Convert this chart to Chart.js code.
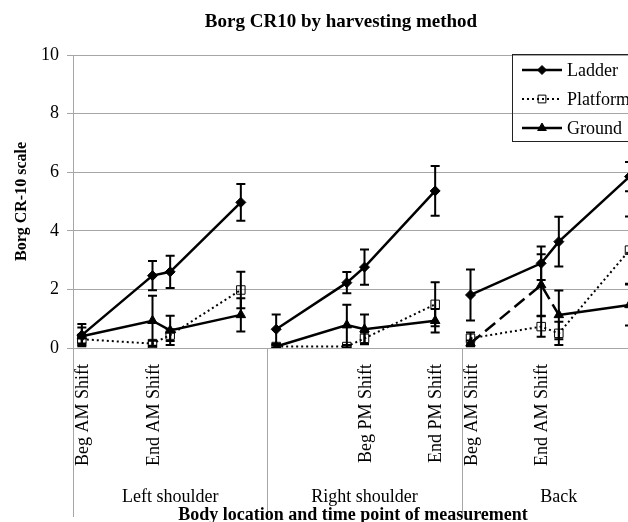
<!DOCTYPE html>
<html>
<head>
<meta charset="utf-8">
<script src="https://cdn.jsdelivr.net/npm/chart.js@4.4.1/dist/chart.umd.min.js"></script>
<style>
  html, body { margin: 0; padding: 0; background: #fff; }
  #wrap { width: 628px; height: 522px; overflow: hidden; position: relative; }
  #wrap canvas { position: absolute; left: 0; top: 0; }
</style>
</head>
<body>
<div id="wrap"><canvas id="borgChart" width="680" height="530" style="width:680px;height:530px"></canvas></div>
<script>
// Datos (Borg CR-10, media y error)
const bodyLocations = ['Left shoulder', 'Right shoulder', 'Back'];
const timePoints = ['Beg AM Shift', 'End AM Shift', 'Beg PM Shift', 'End PM Shift'];
// etiquetas que se ven en el eje (las demas estan ocultas en el original)
const tickLabels = [
  'Beg AM Shift', 'End AM Shift', '', '',
  '', '', 'Beg PM Shift', 'End PM Shift',
  'Beg AM Shift', 'End AM Shift', '', ''
];
const seriesNames = ['Ladder', 'Platform', 'Ground'];

const ladder      = [0.44, 2.47, 2.60, 4.97,  0.64, 2.23, 2.76, 5.36,  1.81, 2.89, 3.63, 5.85];
const ladderErr   = [0.38, 0.50, 0.55, 0.63,  0.50, 0.36, 0.60, 0.85,  0.87, 0.57, 0.85, 0.50];
const platform    = [0.30, 0.15, 0.44, 1.98,  0.05, 0.05, 0.33, 1.49,  0.33, 0.73, 0.50, 3.34];
const platformErr = [0.15, 0.10, 0.20, 0.62,  0.05, 0.05, 0.20, 0.75,  0.20, 0.35, 0.40, 1.15];
const ground      = [0.40, 0.93, 0.60, 1.13,  0.05, 0.78, 0.64, 0.93,  0.16, 2.15, 1.13, 1.47];
const groundErr   = [0.30, 0.85, 0.50, 0.57,  0.05, 0.70, 0.50, 0.40,  0.10, 1.05, 0.83, 0.70];
// tramos de Ground dibujados con guiones (Back: Beg AM -> End AM -> Beg PM)
const groundDashedFrom = [8, 9];

// eje de categorias de Excel: 11 huecos por zona del cuerpo
const SLOTS = 11;
const timeSlots = [0, 4, 5, 9];

const FONT = "'Liberation Serif', 'Times New Roman', serif";
const GRID = '#a6a6a6';

function toPoints(values, errors) {
  const pts = [];
  bodyLocations.forEach((loc, g) => {
    timeSlots.forEach((slot, t) => {
      const i = g * timePoints.length + t;
      pts.push({ x: g * SLOTS + slot + 0.5, y: values[i], err: errors[i] });
    });
    // corte de linea entre zonas
    pts.push({ x: (g + 1) * SLOTS - 0.25, y: null });
  });
  return pts;
}

// indice de la serie (0..11) a partir del indice del dataset
function seriesIndex(dataIndex) {
  const per = timePoints.length + 1;
  const g = Math.floor(dataIndex / per);
  const t = dataIndex % per;
  return t === timePoints.length ? -1 : g * timePoints.length + t;
}

const tickValues = [];
bodyLocations.forEach((loc, g) => timeSlots.forEach(slot => tickValues.push(g * SLOTS + slot + 0.5)));

const datasets = [
  {
    label: seriesNames[0],
    data: toPoints(ladder, ladderErr),
    borderColor: '#000', backgroundColor: '#000',
    borderWidth: 2.5,
    pointStyle: 'rectRot', pointRadius: 5, pointBorderWidth: 1,
    pointBackgroundColor: '#000'
  },
  {
    label: seriesNames[1],
    data: toPoints(platform, platformErr),
    borderColor: '#000', backgroundColor: 'rgba(0,0,0,0)',
    borderWidth: 2, borderDash: [2, 3],
    pointStyle: 'rect', pointRadius: 6, pointBorderWidth: 1,
    pointBackgroundColor: 'rgba(0,0,0,0)'
  },
  {
    label: seriesNames[2],
    data: toPoints(ground, groundErr),
    borderColor: '#000', backgroundColor: '#000',
    borderWidth: 2.5,
    pointStyle: 'triangle', pointRadius: 5.5, pointBorderWidth: 1,
    pointBackgroundColor: '#000',
    segment: {
      borderDash: ctx => groundDashedFrom.includes(seriesIndex(ctx.p0DataIndex)) ? [13, 6] : undefined
    }
  }
];

// barras de error, separadores, rotulos de zona, titulos y leyenda
const decorations = {
  id: 'decorations',
  afterDatasetsDraw(chart) {
    const { ctx, chartArea, scales } = chart;
    ctx.save();
    ctx.beginPath();
    ctx.rect(chartArea.left, chartArea.top - 2, chartArea.right - chartArea.left, chartArea.bottom - chartArea.top + 2);
    ctx.clip();
    ctx.strokeStyle = '#000';
    ctx.lineWidth = 2;
    chart.data.datasets.forEach(ds => {
      ds.data.forEach(p => {
        if (p.y === null) return;
        const x = scales.x.getPixelForValue(p.x);
        const yTop = scales.y.getPixelForValue(p.y + p.err);
        const yBot = scales.y.getPixelForValue(Math.max(p.y - p.err, 0));
        ctx.beginPath();
        ctx.moveTo(x, yTop); ctx.lineTo(x, yBot);
        ctx.moveTo(x - 4.5, yTop); ctx.lineTo(x + 4.5, yTop);
        ctx.moveTo(x - 4.5, yBot); ctx.lineTo(x + 4.5, yBot);
        ctx.stroke();
      });
    });
    ctx.restore();
  },
  afterDraw(chart) {
    const { ctx, chartArea, scales } = chart;
    ctx.save();

    // linea del eje y separadores de zonas
    ctx.strokeStyle = GRID;
    ctx.lineWidth = 1;
    ctx.beginPath();
    for (let g = 0; g < bodyLocations.length; g++) {
      const x = Math.round(scales.x.getPixelForValue(g * SLOTS)) + 0.5;
      ctx.moveTo(x, chartArea.bottom);
      ctx.lineTo(x, 517);
    }
    ctx.stroke();

    ctx.fillStyle = '#000';
    ctx.textAlign = 'center';
    ctx.textBaseline = 'middle';

    // rotulos de zona del cuerpo
    ctx.font = '18px ' + FONT;
    bodyLocations.forEach((loc, g) => {
      ctx.fillText(loc, scales.x.getPixelForValue(g * SLOTS + SLOTS / 2), 497);
    });

    // titulos
    ctx.font = 'bold 19px ' + FONT;
    ctx.fillText('Borg CR10 by harvesting method', 341, 22);
    ctx.font = 'bold 18px ' + FONT;
    ctx.fillText('Body location and time point of measurement', 353, 515);

    // leyenda con marco
    const lx = 512, ly = 54;
    ctx.strokeStyle = '#222';
    ctx.lineWidth = 1;
    ctx.strokeRect(lx + 0.5, ly + 0.5, 150, 87);
    ctx.textAlign = 'left';
    ctx.font = '18px ' + FONT;
    chart.data.datasets.forEach((ds, i) => {
      const y = 70 + i * 29;
      ctx.save();
      ctx.strokeStyle = ds.borderColor;
      ctx.lineWidth = ds.borderWidth;
      ctx.setLineDash(ds.borderDash || []);
      ctx.beginPath();
      ctx.moveTo(522, y); ctx.lineTo(562, y);
      ctx.stroke();
      ctx.setLineDash([]);
      ctx.fillStyle = ds.pointBackgroundColor;
      ctx.lineWidth = 1;
      Chart.helpers.drawPoint(ctx, {
        pointStyle: ds.pointStyle, radius: ds.pointRadius - 0.5, rotation: 0, borderWidth: 1
      }, 542, y);
      ctx.restore();
      ctx.fillText(ds.label, 567, y + 1);
    });

    ctx.restore();
  }
};

new Chart(document.getElementById('borgChart'), {
  type: 'line',
  data: { datasets },
  options: {
    responsive: false,
    animation: false,
    spanGaps: false,
    layout: { padding: { top: 55, right: 24, bottom: 0, left: 0 } },
    plugins: {
      legend: { display: false },
      title: { display: false },
      tooltip: { enabled: false }
    },
    scales: {
      x: {
        type: 'linear',
        min: 0,
        max: bodyLocations.length * SLOTS,
        afterBuildTicks: scale => { scale.ticks = tickValues.map(v => ({ value: v })); },
        afterFit: scale => { scale.height = 182; },
        grid: { display: false, drawTicks: false },
        border: { display: true, color: GRID, width: 1 },
        ticks: {
          autoSkip: false,
          minRotation: 90,
          maxRotation: 90,
          padding: 16,
          labelOffset: 1.5,
          color: '#000',
          font: { family: FONT, size: 18 },
          callback: (value, index) => tickLabels[index]
        }
      },
      y: {
        min: 0,
        max: 10,
        afterFit: scale => { scale.width = 73; },
        ticks: {
          stepSize: 2,
          padding: 8,
          color: '#000',
          font: { family: FONT, size: 18 }
        },
        grid: { color: GRID, lineWidth: 1, tickLength: 6 },
        border: { display: true, color: GRID, width: 1 },
        title: {
          display: true,
          text: 'Borg CR-10 scale',
          color: '#000',
          font: { family: FONT, size: 16, weight: 'bold' },
          padding: { top: 12, bottom: 0 }
        }
      }
    }
  },
  plugins: [decorations]
});
</script>
</body>
</html>
